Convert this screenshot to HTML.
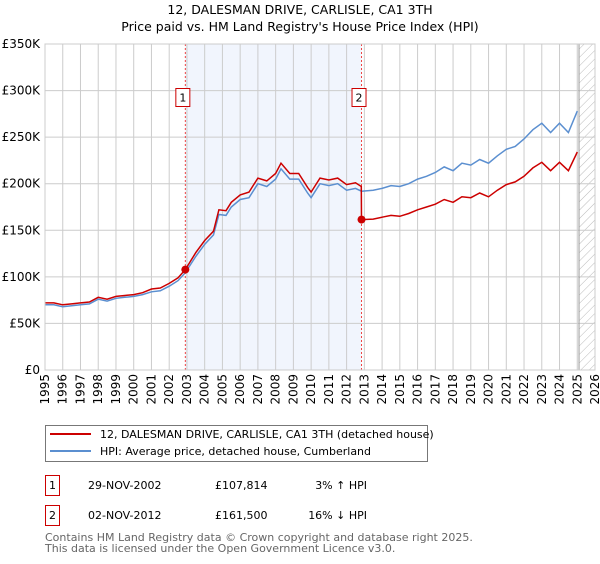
<!DOCTYPE html>
<html><head><meta charset="utf-8"><style>
body{margin:0;background:#fff;font-family:"DejaVu Sans","Liberation Sans",sans-serif;}
svg text{font-family:"DejaVu Sans","Liberation Sans",sans-serif;}
</style></head><body>
<svg id="chart" width="600" height="560" xmlns="http://www.w3.org/2000/svg">
<defs><pattern id="hatch" patternUnits="userSpaceOnUse" width="6" height="6" patternTransform="rotate(45)"><line x1="0" y1="0" x2="0" y2="6" stroke="#bbb" stroke-width="1"/></pattern></defs>
<text x="300" y="14" text-anchor="middle" font-size="12.5">12, DALESMAN DRIVE, CARLISLE, CA1 3TH</text>
<text x="300" y="31" text-anchor="middle" font-size="12.5">Price paid vs. HM Land Registry's House Price Index (HPI)</text>
<g id="plot"></g>
<rect x="45.5" y="425.5" width="382" height="36" fill="#fff" stroke="#777"/>
<line x1="50" y1="434" x2="91" y2="434" stroke="#cc0000" stroke-width="2"/>
<text x="100" y="438" font-size="11">12, DALESMAN DRIVE, CARLISLE, CA1 3TH (detached house)</text>
<line x1="50" y1="451" x2="91" y2="451" stroke="#5b8fd0" stroke-width="2"/>
<text x="100" y="455" font-size="11">HPI: Average price, detached house, Cumberland</text>
<g font-size="11">
<rect x="45.5" y="475.5" width="14" height="20" fill="#fff" stroke="#cc0000"/><text x="52.5" y="489" text-anchor="middle">1</text>
<text x="88" y="489">29-NOV-2002</text><text x="215" y="489">£107,814</text><text x="367" y="489" text-anchor="end">3% ↑ HPI</text></g>
<g font-size="11">
<rect x="45.5" y="505.5" width="14" height="20" fill="#fff" stroke="#cc0000"/><text x="52.5" y="519" text-anchor="middle">2</text>
<text x="88" y="519">02-NOV-2012</text><text x="215" y="519">£161,500</text><text x="367" y="519" text-anchor="end">16% ↓ HPI</text></g>
<text x="45" y="541" font-size="11" fill="#666">Contains HM Land Registry data © Crown copyright and database right 2025.</text>
<text x="45" y="552" font-size="11" fill="#666">This data is licensed under the Open Government Licence v3.0.</text>
</svg>
<script>
const hpiYears=[1995,1995.5,1996,1996.5,1997,1997.5,1998,1998.5,1999,1999.5,2000,2000.5,2001,2001.5,2002,2002.5,2002.91,2003.5,2004,2004.5,2004.8,2005.2,2005.5,2006,2006.5,2007,2007.5,2008,2008.3,2008.8,2009.3,2009.8,2010,2010.5,2011,2011.5,2012,2012.5,2012.84,2013.5,2014,2014.5,2015,2015.5,2016,2016.5,2017,2017.5,2018,2018.5,2019,2019.5,2020,2020.5,2021,2021.5,2022,2022.5,2023,2023.5,2024,2024.5,2025];
const hpiValues=[70,70,68,69,70,71,76,74,77,78,79,81,84,85,90,96,104.5,122,135,145,167,166,175,183,185,200,197,205,216,205,205,190,185,200,198,200,193,195,192,193,195,198,197,200,205,208,212,218,214,222,220,226,222,230,237,240,248,258,265,255,265,255,278];
const priceYears=[1995,1995.5,1996,1996.5,1997,1997.5,1998,1998.5,1999,1999.5,2000,2000.5,2001,2001.5,2002,2002.5,2002.91,2003.5,2004,2004.5,2004.8,2005.2,2005.5,2006,2006.5,2007,2007.5,2008,2008.3,2008.8,2009.3,2009.8,2010,2010.5,2011,2011.5,2012,2012.5,2012.83,2012.84,2013.5,2014,2014.5,2015,2015.5,2016,2016.5,2017,2017.5,2018,2018.5,2019,2019.5,2020,2020.5,2021,2021.5,2022,2022.5,2023,2023.5,2024,2024.5,2025];
const priceValues=[72,72,70,71,72,73,78,76,79,80,81,83,87,88,93,99,107.8,126,139,149,172,171,180,188,191,206,203,211,222,211,211,196,191,206,204,206,199,201,197,161.5,162,164,166,165,168,172,175,178,183,180,186,185,190,186,193,199,202,208,217,223,214,223,214,234];
const sales=[{n:"1",year:2002.91,value:107.814},{n:"2",year:2012.84,value:161.5}];
const yTicks=[0,50,100,150,200,250,300,350];
const yTickLabels=["£0","£50K","£100K","£150K","£200K","£250K","£300K","£350K"];
const xTicks=[1995,1996,1997,1998,1999,2000,2001,2002,2003,2004,2005,2006,2007,2008,2009,2010,2011,2012,2013,2014,2015,2016,2017,2018,2019,2020,2021,2022,2023,2024,2025,2026];

const NS="http://www.w3.org/2000/svg";
const L=45,R=595,T=44,B=370;
const xs=y=>L+(y-1995)/(2026-1995)*(R-L);
const ys=v=>B-v/350*(B-T);
const g=document.getElementById('plot');
function mk(tag,attrs,parent){const e=document.createElementNS(NS,tag);for(const k in attrs)e.setAttribute(k,attrs[k]);(parent||g).appendChild(e);return e;}

let e=mk('rect',{x:xs(sales[0].year),y:T,width:xs(sales[1].year)-xs(sales[0].year),height:B-T,fill:'#eef3fd',opacity:0.8});


e=mk('rect',{x:xs(2025.1),y:T,width:R-xs(2025.1),height:B-T,fill:'url(#hatch)'});


yTicks.forEach((v,i)=>{
 let l=mk('line',{x1:L,x2:R,y1:ys(v),y2:ys(v),stroke:'#ccc','stroke-width':1});
 
 
 let t=mk('text',{x:L-5,y:ys(v)+4,'text-anchor':'end','font-size':12});
 t.textContent=yTickLabels[i];
 
 
});
xTicks.forEach(y=>{
 let l=mk('line',{x1:xs(y),x2:xs(y),y1:T,y2:B,stroke:'#ccc','stroke-width':1});
 
 
 let t=mk('text',{x:0,y:0,'text-anchor':'end','font-size':12,transform:`translate(${xs(y)+4},${B+4}) rotate(-90)`});
 t.textContent=y;
 
 
});
e=mk('line',{x1:xs(2025.1),x2:xs(2025.1),y1:T,y2:B,stroke:'#999','stroke-width':1});


sales.forEach(s=>{
 let l=mk('line',{x1:xs(s.year),x2:xs(s.year),y1:T,y2:B,stroke:'#e44','stroke-width':1,'stroke-dasharray':'2,2'});
 
 
 let r=mk('rect',{x:xs(s.year)-9.5,y:88.5,width:14,height:18,fill:'#fff',stroke:'#cc0000'});
 
 
 let t=mk('text',{x:xs(s.year)-2.5,y:101.5,'text-anchor':'middle','font-size':11});
 t.textContent=s.n;
 
 
});
const path=(xa,va)=>xa.map((x,i)=>(i?'L':'M')+xs(x).toFixed(1)+','+ys(va[i]).toFixed(1)).join('');
e=mk('path',{d:path(hpiYears,hpiValues),fill:'none',stroke:'#5b8fd0','stroke-width':1.5});


e=mk('path',{d:path(priceYears,priceValues),fill:'none',stroke:'#cc0000','stroke-width':1.5});


sales.forEach(s=>{
 let c=mk('circle',{cx:xs(s.year),cy:ys(s.value),r:4,fill:'#cc0000'});
 
 
});
e=mk('rect',{x:L,y:T,width:R-L,height:B-T,fill:'none',stroke:'#ccc'});


</script>
</body></html>
